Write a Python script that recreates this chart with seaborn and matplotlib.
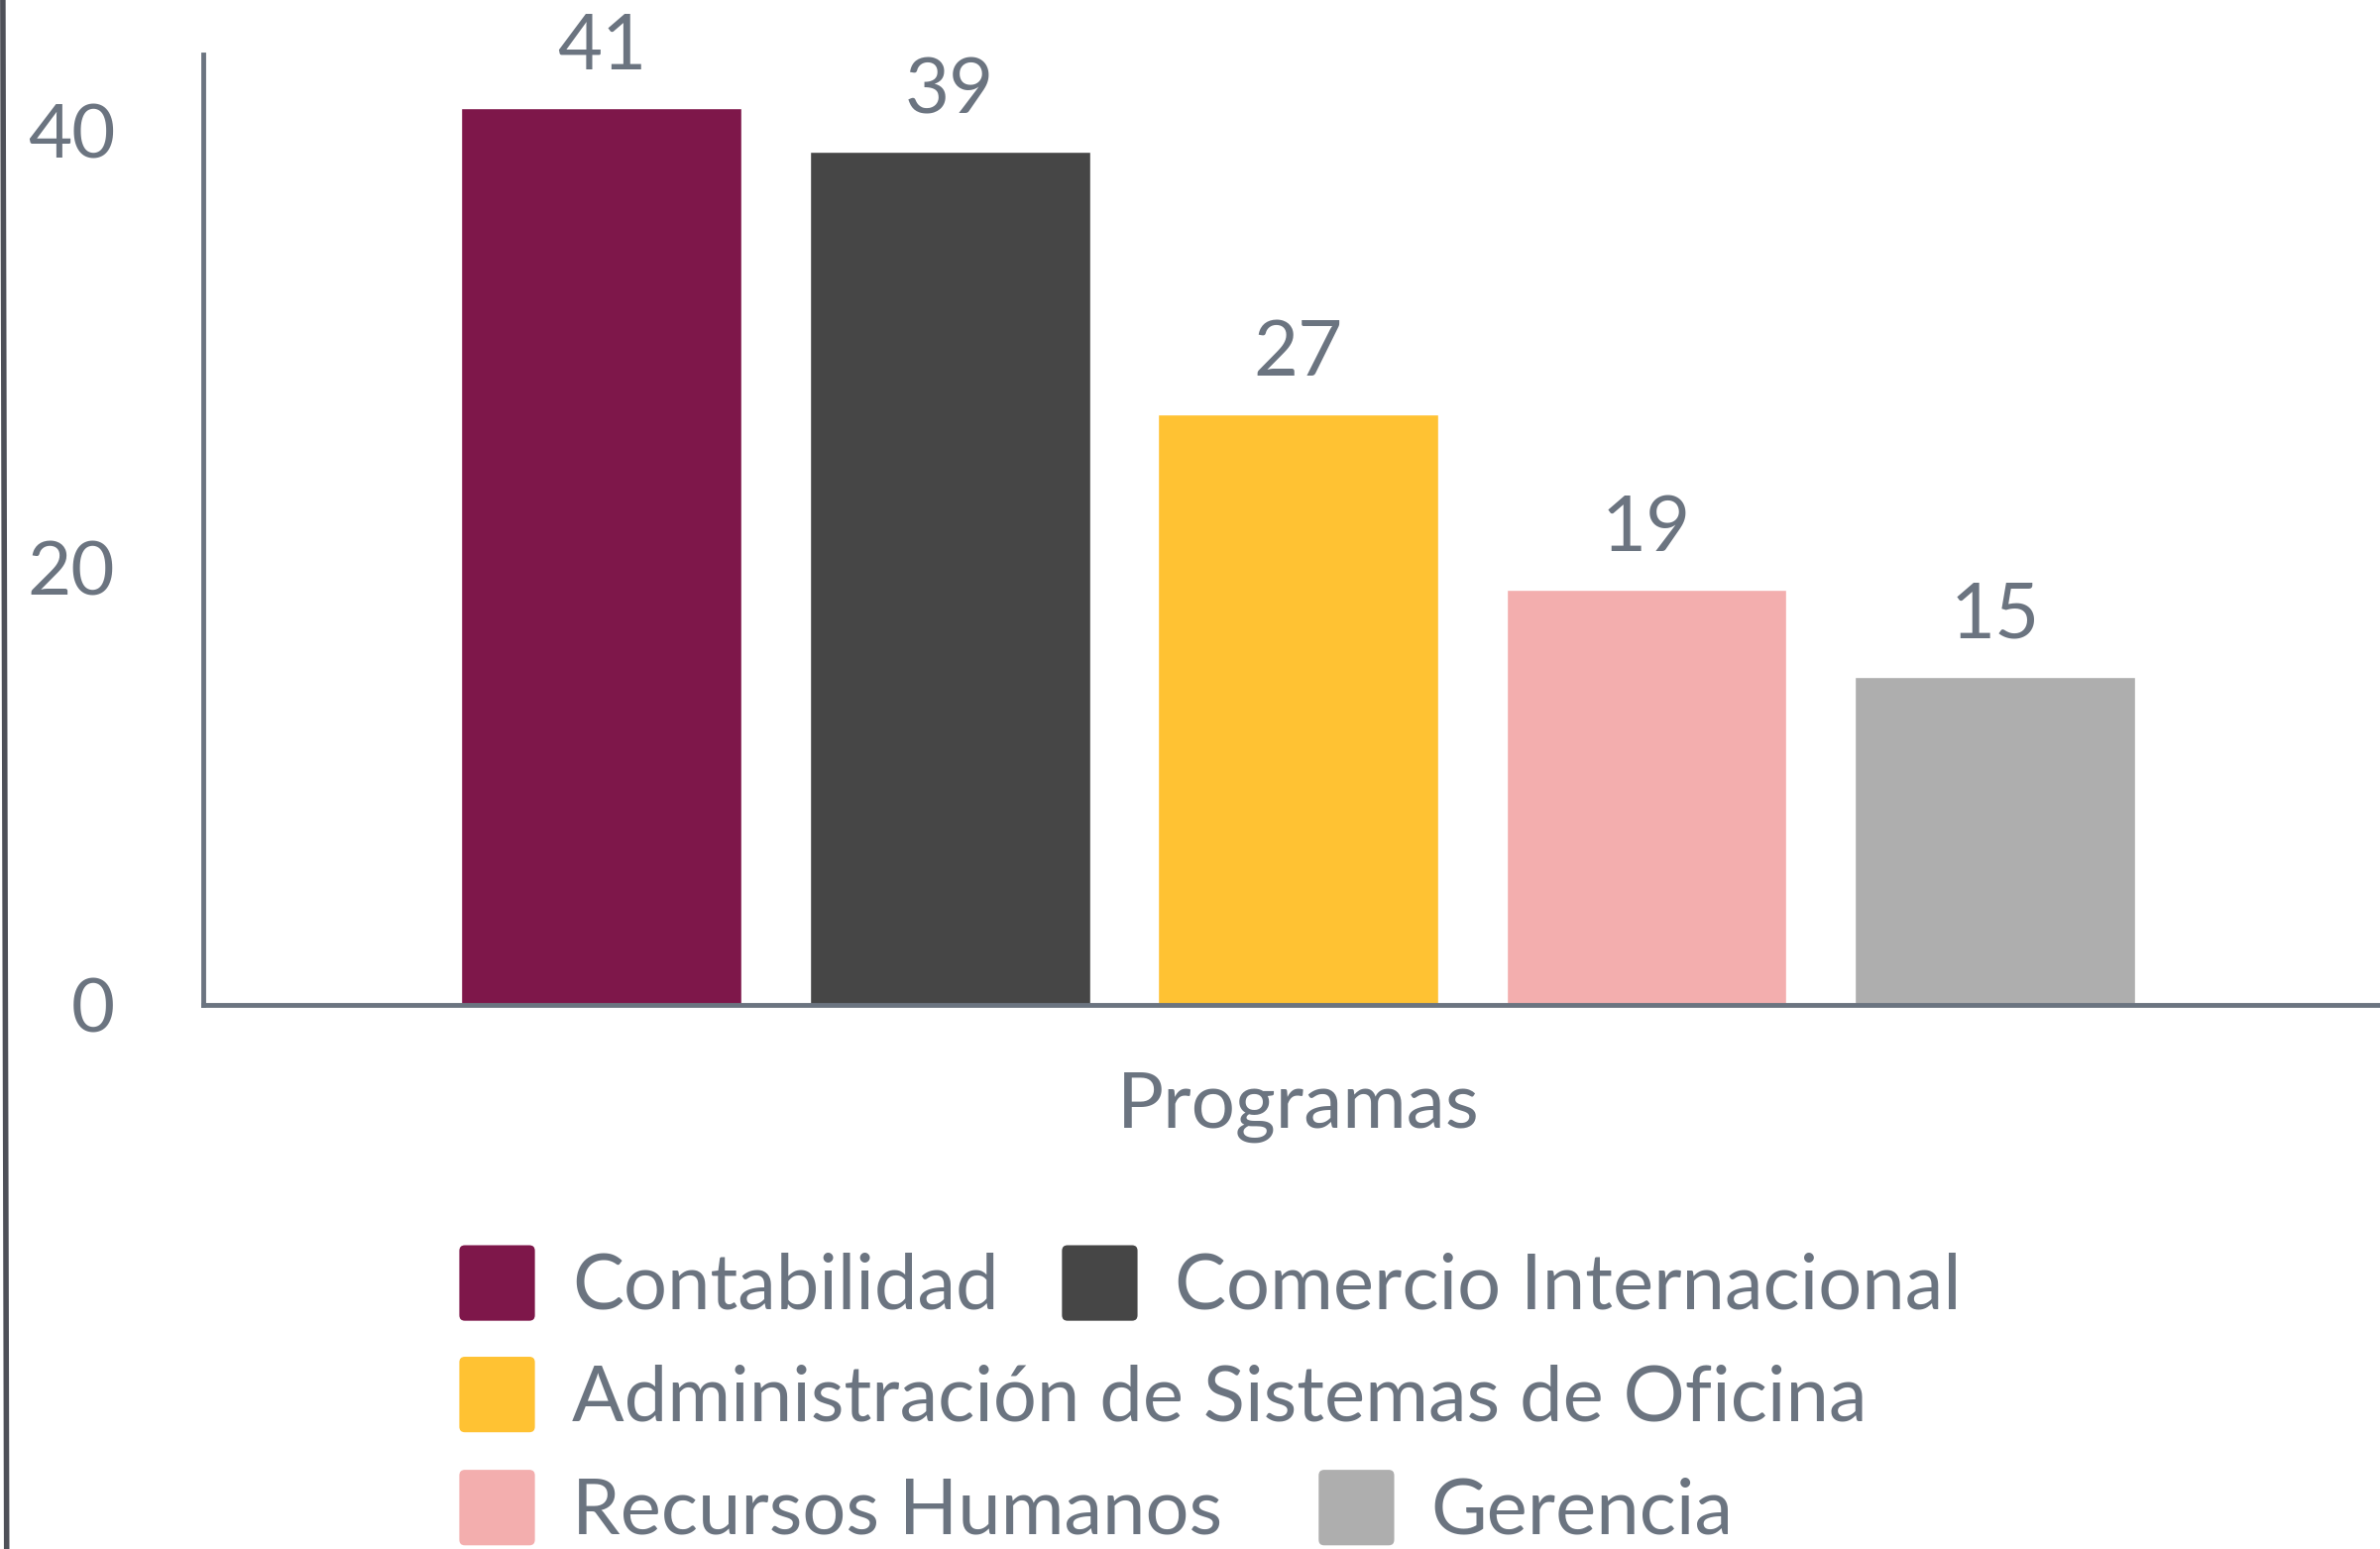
import pandas as pd
import numpy as np
import matplotlib
matplotlib.use("Agg")
import matplotlib.pyplot as plt
import matplotlib.patches as mpatches
from matplotlib.legend_handler import HandlerPatch
from matplotlib.lines import Line2D
import seaborn as sns

# data
programas = ["Contabilidad", "Comercio Internacional",
             "Administración de Sistemas de Oficina", "Recursos Humanos", "Gerencia"]
valores = [41, 39, 27, 19, 15]
grupo = "Programas"
colores = ["#7e174a", "#464646", "#ffc233", "#f3aeae", "#aeaeae"]
yticks = [0, 20, 40]

gris = "#6b7480"

sns.set_style("white")
plt.rcParams["font.family"] = ["Lato", "DejaVu Sans"]

df = pd.DataFrame({"grupo": [grupo] * len(programas), "programa": programas, "valor": valores})

fig = plt.figure(figsize=(24.01, 15.63), dpi=100)
ax = fig.add_axes([0.0854, 0.3513, 0.9146, 0.6135])

sns.barplot(data=df, x="grupo", y="valor", hue="programa", hue_order=programas,
            palette=colores, width=0.8, gap=0.195, saturation=1, legend=False, ax=ax)

for c in ax.containers:
    ax.bar_label(c, fmt="%d", padding=18, fontsize=56, color=gris)

ax.set_xlim(-0.503, 0.497)
ax.set_ylim(0, 43.45)
ax.set_yticks(yticks)
ax.set_xlabel("")
ax.set_ylabel("")
ax.tick_params(axis="both", length=0, labelsize=55, colors=gris)
ax.tick_params(axis="x", labelsize=56.5, pad=49)
ax.tick_params(axis="y", pad=64)

for s in ["top", "right"]:
    ax.spines[s].set_visible(False)
for s in ["left", "bottom"]:
    ax.spines[s].set_color(gris)
    ax.spines[s].set_linewidth(3.5)

# dark border line at the left edge
fig.add_artist(Line2D([0.0012, 0.0028], [1, 0], transform=fig.transFigure,
                      color="#4e5058", lw=4))


def rounded(legend, orig_handle, xdescent, ydescent, width, height, fontsize):
    return mpatches.FancyBboxPatch((-xdescent, -ydescent), width, height,
                                   boxstyle="round,pad=0,rounding_size=4")


filas = [[0, 1], [2], [3, 4]]
ys = [0.171, 0.099, 0.026]
espacios = [0.82, 0.82, 1.25]
for fila, y, esp in zip(filas, ys, espacios):
    handles = [mpatches.Patch(facecolor=colores[i], edgecolor="none") for i in fila]
    labels = [programas[i] for i in fila]
    fig.legend(handles, labels, loc="center left", bbox_to_anchor=(0.193, y),
               ncol=len(fila), frameon=False, fontsize=56, labelcolor=gris,
               handlelength=0.98, handleheight=1.13, handletextpad=0.48,
               columnspacing=esp, borderpad=0, borderaxespad=0,
               handler_map={mpatches.Patch: HandlerPatch(patch_func=rounded)})

fig.savefig("out.png", dpi=100, facecolor="white")
